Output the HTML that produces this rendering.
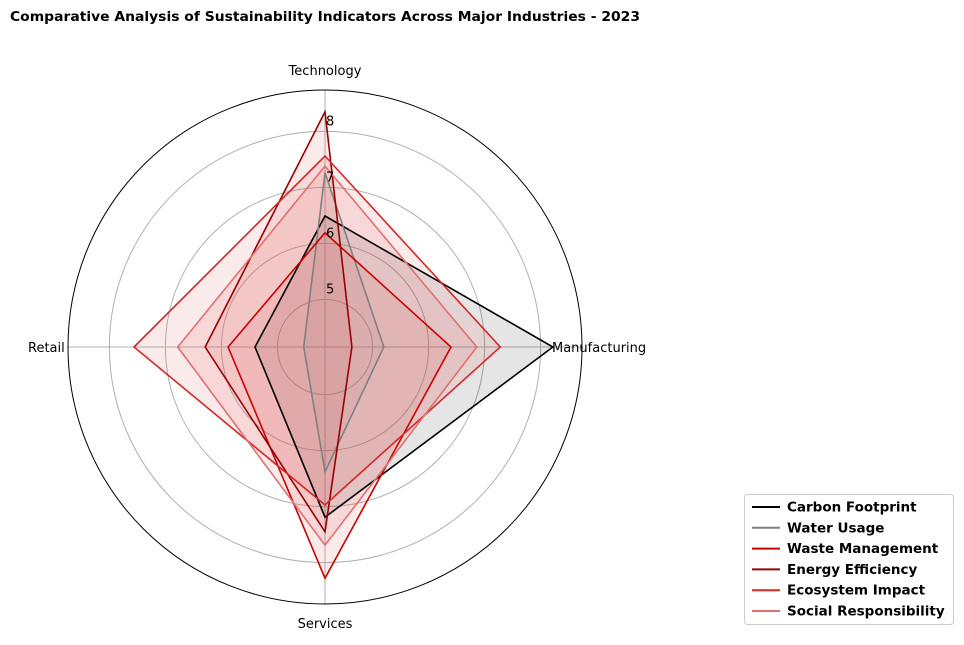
<!DOCTYPE html>
<html><head><meta charset="utf-8"><style>
body{margin:0;background:#fff;font-family:"DejaVu Sans","Liberation Sans",sans-serif;}
</style></head><body>
<svg id="chart" width="964" height="641" viewBox="0 0 964 641" xmlns="http://www.w3.org/2000/svg" font-family="DejaVu Sans, Liberation Sans, sans-serif">
<text x="10" y="21" font-size="13" font-weight="bold" textLength="630" lengthAdjust="spacingAndGlyphs">Comparative Analysis of Sustainability Indicators Across Major Industries - 2023</text>
<g id="grid"></g>
<g id="series"></g>
<g id="labels"></g>
<g id="legend"></g>
</svg>
<script>
const categories=["Technology","Manufacturing","Services","Retail"];
const seriesNames=["Carbon Footprint","Water Usage","Waste Management","Energy Efficiency","Ecosystem Impact","Social Responsibility"];
const carbonFootprint=[6.49,8.22,7.19,5.4];
const waterUsage=[7.26,5.2,6.38,4.53];
const wasteManagement=[6.19,6.4,8.28,5.88];
const energyEfficiency=[8.35,4.63,7.45,6.29];
const ecosystemImpact=[7.56,7.28,6.97,7.56];
const socialResponsibility=[7.38,6.86,7.69,6.78];
const tickValues=[5,6,7,8];
const tickLabels=["5","6","7","8"];

const allSeries=[carbonFootprint,waterUsage,wasteManagement,energyEfficiency,ecosystemImpact,socialResponsibility];
const colors=["#000000","#808080","#cc0000","#990000","#d62728","#e07070"];
const fills=["#000000","#808080","#e06060","#e06060","#e06060","#e06060"];
const cx=325,cy=347,R=257,rmin=4.15,rmax=4.15+257/56;
const NS="http://www.w3.org/2000/svg";
function rScale(v){return (v-rmin)/(rmax-rmin)*R;}
function angle(i){return -Math.PI/2+i*2*Math.PI/categories.length;}
function pt(i,v){const r=rScale(v),a=angle(i);return [cx+r*Math.cos(a),cy+r*Math.sin(a)];}
function mk(tag,attrs,parent){const e=document.createElementNS(NS,tag);for(const k in attrs)e.setAttribute(k,attrs[k]);parent.appendChild(e);return e;}
const grid=document.getElementById('grid');
tickValues.forEach((t,k)=>{
 const c=mk('circle',{cx:cx,cy:cy,r:rScale(t),fill:'none',stroke:'#b0b0b0','stroke-width':1},grid);
 
 
});
categories.forEach((c,i)=>{
 const p=pt(i,rmax);
 const l=mk('line',{x1:cx,y1:cy,x2:p[0],y2:p[1],stroke:'#b0b0b0','stroke-width':1},grid);
 
 
});
const oc=mk('circle',{cx:cx,cy:cy,r:R,fill:'none',stroke:'#000','stroke-width':1},grid);


const sg=document.getElementById('series');
allSeries.forEach((vals,s)=>{
 const pts=vals.map((v,i)=>pt(i,v).map(n=>n.toFixed(1)).join(',')).join(' ');
 const f=mk('polygon',{points:pts,fill:fills[s],'fill-opacity':s<2?0.1:0.13,stroke:'none'},sg);
 
 
});
allSeries.forEach((vals,s)=>{
 const pts=vals.map((v,i)=>pt(i,v).map(n=>n.toFixed(1)).join(',')).join(' ');
 const p=mk('polygon',{points:pts,fill:'none',stroke:colors[s],'stroke-width':1.6},sg);
 
 
});
const lg=document.getElementById('labels');
tickValues.forEach((t,k)=>{
 const tx=mk('text',{x:cx+1,y:cy-rScale(t)-6,'font-size':13},lg);
 tx.textContent=tickLabels[k];
 
 
});
const labPos=[[325,75,'middle'],[552,352,'start'],[325,628,'middle'],[28,352,'start']];
categories.forEach((c,i)=>{
 const tx=mk('text',{x:labPos[i][0],y:labPos[i][1],'font-size':13,'text-anchor':labPos[i][2]},lg);
 tx.textContent=c;
 
 
});
const leg=document.getElementById('legend');
const box=mk('rect',{x:744.5,y:494.5,width:209,height:130,rx:3,fill:'#fff',stroke:'#ccc'},leg);


seriesNames.forEach((n,s)=>{
 const y=507+s*20.8;
 const g=mk('g',{},leg);
 
 
 mk('line',{x1:752,y1:y,x2:780,y2:y,stroke:colors[s],'stroke-width':2},g);
 const t=mk('text',{x:787,y:y+4.5,'font-size':13.5,'font-weight':'bold'},g);
 t.textContent=n;
});
</script>
</body></html>
